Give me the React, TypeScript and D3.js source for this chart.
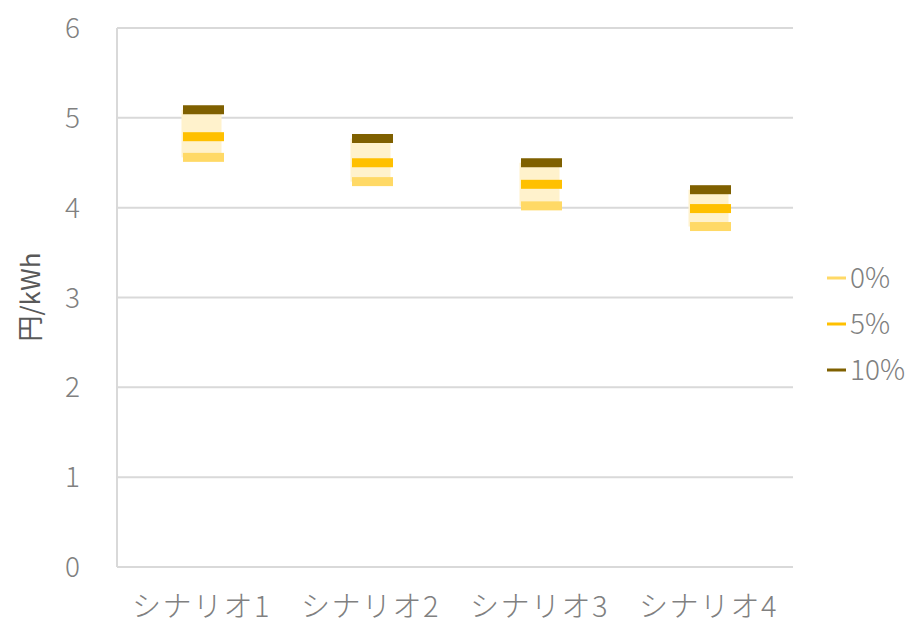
import React from "react";
import * as d3 from "d3";

// Generation cost per scenario (円/kWh) at three discount rates
const categories = ["シナリオ1", "シナリオ2", "シナリオ3", "シナリオ4"];
const rate0 = [4.56, 4.29, 4.02, 3.79];
const rate5 = [4.79, 4.5, 4.26, 3.99];
const rate10 = [5.09, 4.77, 4.5, 4.2];
const seriesNames = ["0%", "5%", "10%"];
const yTicks = [0, 1, 2, 3, 4, 5, 6];

const W = 911;
const H = 624;
const M = { left: 117, right: 793, top: 28, bottom: 567 };
const FONT = "'Noto Sans CJK JP', 'Noto Sans', sans-serif";
const COLORS = ["#FFD966", "#FFC000", "#7F6000"];

export default function App() {
  const x = d3
    .scaleBand<string>()
    .domain(categories)
    .range([M.left, M.right]);
  const y = d3.scaleLinear().domain([0, 6]).range([M.bottom, M.top]);

  const series = [rate0, rate5, rate10];
  const markW = 41;
  const markH = 9;
  const barW = 40;

  return (
    <svg
      width={W}
      height={H}
      style={{ position: "absolute", left: 0, top: 0, background: "#fff" }}
      fontFamily={FONT}
    >
      {/* gridlines */}
      {yTicks.map((t) => (
        <line
          key={"g" + t}
          x1={M.left}
          x2={M.right}
          y1={y(t)}
          y2={y(t)}
          stroke="#D9D9D9"
          strokeWidth={2}
        />
      ))}
      {/* axes */}
      <line x1={M.left} x2={M.left} y1={y(6)} y2={y(0)} stroke="#D9D9D9" strokeWidth={2} />
      {yTicks.map((t) => (
        <text
          key={"t" + t}
          x={80}
          y={y(t)}
          dy="0.36em"
          textAnchor="end"
          fontSize={28}
          fontWeight={300}
          fill="#808080"
        >
          {t}
        </text>
      ))}
      {/* range bars between 0% and 10% */}
      {categories.map((c, i) => {
        const cx = (x(c) as number) + x.bandwidth() / 2;
        return (
          <rect
            key={"b" + c}
            x={cx - barW / 2}
            y={y(rate10[i])}
            width={barW}
            height={y(rate0[i]) - y(rate10[i])}
            fill="#FFF2CC"
          />
        );
      })}
      {/* dash markers */}
      {series.map((vals, s) =>
        categories.map((c, i) => {
          const cx = (x(c) as number) + x.bandwidth() / 2 + 2;
          return (
            <rect
              key={"m" + s + c}
              x={cx - markW / 2}
              y={y(vals[i]) - markH / 2}
              width={markW}
              height={markH}
              fill={COLORS[s]}
            />
          );
        })
      )}
      {/* category labels */}
      {categories.map((c) => (
        <text
          key={"c" + c}
          x={(x(c) as number) + x.bandwidth() / 2}
          y={617}
          textAnchor="middle"
          fontSize={29}
          fontWeight={300}
          letterSpacing={1.5}
          fill="#808080"
        >
          {c}
        </text>
      ))}
      {/* axis title */}
      <text
        transform="translate(40,297) rotate(-90)"
        textAnchor="middle"
        fontSize={26}
        fill="#595959"
      >
        円/kWh
      </text>
      {/* legend */}
      {seriesNames.map((n, s) => (
        <g key={"l" + n} transform={`translate(0,${278 + s * 46})`}>
          <line x1={827} x2={846} y1={0} y2={0} stroke={COLORS[s]} strokeWidth={3} />
          <text x={850} y={0} dy="0.36em" fontSize={28} fontWeight={300} fill="#808080">
            {n}
          </text>
        </g>
      ))}
    </svg>
  );
}
